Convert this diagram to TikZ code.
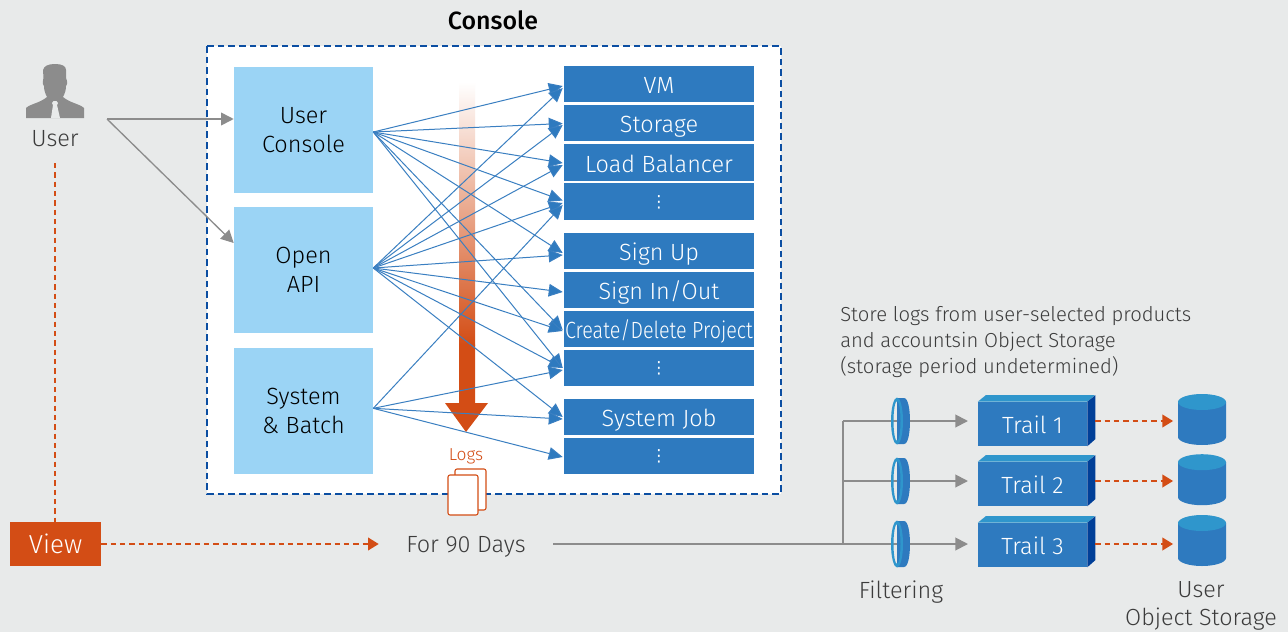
\documentclass[tikz,border=0pt]{standalone}
\usepackage{fontspec}
\setmainfont{Fira Sans Light}[BoldFont={Fira Sans Medium}]
\newfontfamily\dotsfont{DejaVu Sans}
\usetikzlibrary{arrows.meta}
\definecolor{pagegray}{RGB}{232,234,234}
\definecolor{inkgray}{RGB}{60,60,60}
\definecolor{arrowgray}{RGB}{140,140,140}
\definecolor{framenavy}{RGB}{11,78,162}
\definecolor{skyfill}{RGB}{155,212,245}
\definecolor{boxblue}{RGB}{46,122,191}
\definecolor{fanblue}{RGB}{58,127,193}
\definecolor{lightblue}{RGB}{47,150,204}
\definecolor{deepblue}{RGB}{0,63,152}
\definecolor{burnt}{RGB}{211,77,21}
\tikzset{
  sourcebox/.style={fill=skyfill,minimum width=104.25pt,minimum height=94.5pt,inner sep=0pt,align=center,text=black,font=\fontsize{17.6}{22}\selectfont},
  servicebox/.style={fill=boxblue,minimum width=142.5pt,minimum height=27.2pt,inner sep=0pt,text height=14.5pt,text depth=0pt,text=white,font=\fontsize{17.6}{20}\selectfont},
  dotsbox/.style={servicebox,text height=8.5pt,font=\fontsize{12.5}{14}\dotsfont},
  trailbox/.style={fill=boxblue,minimum width=81.75pt,minimum height=33pt,inner sep=0pt,text height=14pt,text depth=0pt,text=white,font=\fontsize{17.6}{20}\selectfont},
  dbnode/.style={minimum width=36pt,minimum height=38.25pt,inner sep=0pt},
  plaintext/.style={text=inkgray,inner sep=0pt,text height=13pt,text depth=0pt,font=\fontsize{17.6}{22}\selectfont},
  fanarrow/.style={draw=fanblue,line width=0.75pt,-{Triangle[length=10.5pt,width=9.5pt,fill=boxblue]}},
  grayarrow/.style={draw=arrowgray,line width=1.4pt,-{Triangle[length=9.5pt,width=9.5pt]}},
  grayline/.style={draw=arrowgray,line width=1.4pt},
  burntarrow/.style={draw=burnt,line width=1.2pt,dash pattern=on 4pt off 3pt,-{Triangle[length=8pt,width=9.5pt]}}
}
\begin{document}
\begin{tikzpicture}[x=0.75pt,y=0.75pt,yscale=-1,xscale=1]
\useasboundingbox (0,0) rectangle (1288,632);
\fill [pagegray] (0,0) rectangle (1288,632);

%Console frame
\draw [draw=framenavy,fill=white,line width=1.5pt,dash pattern=on 5pt off 3pt] (207,46) rectangle (781,494);
\node [inner sep=0pt,text=black,font=\fontsize{18.7}{20}\bfseries\selectfont] (consolelabel) at (493,20) {Console};

%Gradient arrow
\shade [top color=white,bottom color=burnt,shading angle=0] (459,82) rectangle (475,345);
\fill [burnt] (459,344.5) -- (475,344.5) -- (475,403) -- (488,403) -- (466,432) -- (445,403) -- (459,403) -- cycle;

%Sources
\node [sourcebox] (uconsole) at (303.5,130) {User\\Console};
\node [sourcebox] (openapi) at (303.5,270) {Open\\API};
\node [sourcebox] (sysbatch) at (303.5,411) {System\\\& Batch};

%Services
\node [servicebox] (vm) at (659,84) {VM};
\node [servicebox] (storage) at (659,123) {Storage};
\node [servicebox] (balancer) at (659,162.5) {Load Balancer};
\node [dotsbox] (dotsa) at (659,201.5) {⋮};
\node [servicebox] (signup) at (659,251) {Sign Up};
\node [servicebox] (signin) at (659,290) {Sign In/Out};
\node [servicebox] (project) at (659,329) {\scalebox{0.84}[1]{Create/Delete Project}};
\node [dotsbox] (dotsb) at (659,368) {⋮};
\node [servicebox] (sysjob) at (659,417) {System Job};
\node [dotsbox] (dotsc) at (659,456) {⋮};

%Fan lines
\foreach \tgt/\dy in {vm/2,storage/0.5,balancer/0.5,dotsa/-1,signup/2,project/1,dotsb/0}
  \draw [fanarrow] ([yshift=1.5pt]uconsole.east) -- ([xshift=-0.75pt,yshift=\dy*0.75pt]\tgt.west);
\foreach \tgt/\dy in {vm/4,storage/2,balancer/2.5,dotsa/1.5,signup/4,signin/2,project/2,dotsb/0,sysjob/0}
  \draw [fanarrow] ([yshift=-1.5pt]openapi.east) -- ([xshift=-0.75pt,yshift=\dy*0.75pt]\tgt.west);
\foreach \tgt/\dy in {dotsa/3.5,dotsb/2,sysjob/2,dotsc/1}
  \draw [fanarrow] ([yshift=-2pt]sysbatch.east) -- ([xshift=-0.75pt,yshift=\dy*0.75pt]\tgt.west);

%Logs
\node [inner sep=0pt,text=burnt,font=\fontsize{13}{15}\selectfont] (logslabel) at (466,456) {Logs};
\draw [draw=burnt,fill=white,rounded corners=1.5pt,line width=0.8pt] (455,469) rectangle (486,510);
\draw [draw=burnt,fill=white,rounded corners=1.5pt,line width=0.8pt] (448,475) rectangle (478,515);

%User figure
\fill [arrowgray] (26,118) -- (26,108) .. controls (30,104) and (40,103) .. (47,97) .. controls (45,93) and (44,90) .. (44,86) .. controls (42,84) and (43,80) .. (43.5,78) -- (43,70) .. controls (44,66) and (48,64) .. (55,64) .. controls (62,64) and (66,66) .. (66,70) -- (66,78) .. controls (67,80) and (68,84) .. (66,86) .. controls (66,90) and (65,93) .. (63,97) .. controls (70,103) and (80,104) .. (84,108) -- (84,118) -- cycle;
\fill [pagegray] (53.5,101) -- (52,103) -- (53,105) -- (51,118) -- (60,118) -- (57,105) -- (58,103) -- (56.5,101) -- cycle;
\node [plaintext] (userlabel) at (55,138) {User};

\coordinate (userfork) at (107,119);
\draw [grayarrow,line width=1.2pt] (userfork) -- (uconsole.west |- userfork);
\draw [grayarrow,line width=1pt] (userfork) -- ([yshift=-20.25pt]openapi.west);

%View row
\node [fill=burnt,minimum width=68.25pt,minimum height=33pt,inner sep=0pt,text height=13.5pt,text depth=0pt,text=white,font=\fontsize{19.5}{20}\selectfont] (view) at (55.5,544) {View};
\coordinate (userfoot) at (55,163);
\draw [draw=burnt,line width=1.2pt,dash pattern=on 4pt off 3pt] (userfoot) -- (view.north -| userfoot);
\node [plaintext,minimum width=130.5pt] (days) at (466,544) {For 90 Days};
\draw [burntarrow] (view.east) -- (days.west);

%Filters and trails
\coordinate (branch) at (843,544);
\draw [grayline] (days.east) -- (branch);
\draw [grayline] (843,421) -- (branch);
\foreach \i/\yy/\boxy/\dby in {1/421/424/419.5,2/481/484/479.7,3/544/545/540.5}{
  \node [trailbox] (trail\i) at (1032.5,\boxy) {Trail \i};
  \fill [lightblue] (trail\i.north west) -- ++(8,-6.5) -- ++(109,0) -- (trail\i.north east) -- cycle;
  \fill [deepblue] (trail\i.north east) -- ++(8,-6.5) -- ++(0,44) -- (trail\i.south east) -- cycle;
  \coordinate (lens\i) at (897,\yy);
  \coordinate (tip\i) at (968,\yy);
  \draw [grayline] (843,\yy) -- (lens\i);
  \fill [boxblue] (897,\yy-23) -- (904,\yy-23) .. controls (908,\yy-23) and (910,\yy-12) .. (910,\yy) .. controls (910,\yy+12) and (908,\yy+23) .. (904,\yy+23) -- (897,\yy+23) -- cycle;
  \fill [lightblue,even odd rule] (897,\yy) ellipse [x radius=6,y radius=23.5] (897,\yy) ellipse [x radius=3.5,y radius=20];
  \draw [grayarrow] (910,\yy) -- (tip\i);
  \node [dbnode] (db\i) at (1202,\dby) {};
  \fill [boxblue] (1178,\dby-17.5) -- (1178,\dby+17.5) arc [start angle=180,end angle=0,x radius=24,y radius=8] -- (1226,\dby-17.5) -- cycle;
  \fill [lightblue] (1202,\dby-17.5) ellipse [x radius=24,y radius=8];
  \draw [burntarrow] ([xshift=6pt]trail\i.east |- lens\i) -- ([xshift=-3.5pt]db\i.west |- lens\i);
}

%Notes
\node [text=inkgray,inner sep=0pt,anchor=west,font=\fontsize{15.2}{19.4}\selectfont,align=left] (storenote) at (840,342) {Store logs from user-selected products\\and accountsin Object Storage\\(storage period undetermined)};
\node [plaintext] (filterlabel) at (901,590) {Filtering};
\node [text=inkgray,inner sep=0pt,font=\fontsize{17.5}{21.5}\selectfont,align=center] (dblabel) at (1201,606) {User\\Object Storage};

\end{tikzpicture}
\end{document}
